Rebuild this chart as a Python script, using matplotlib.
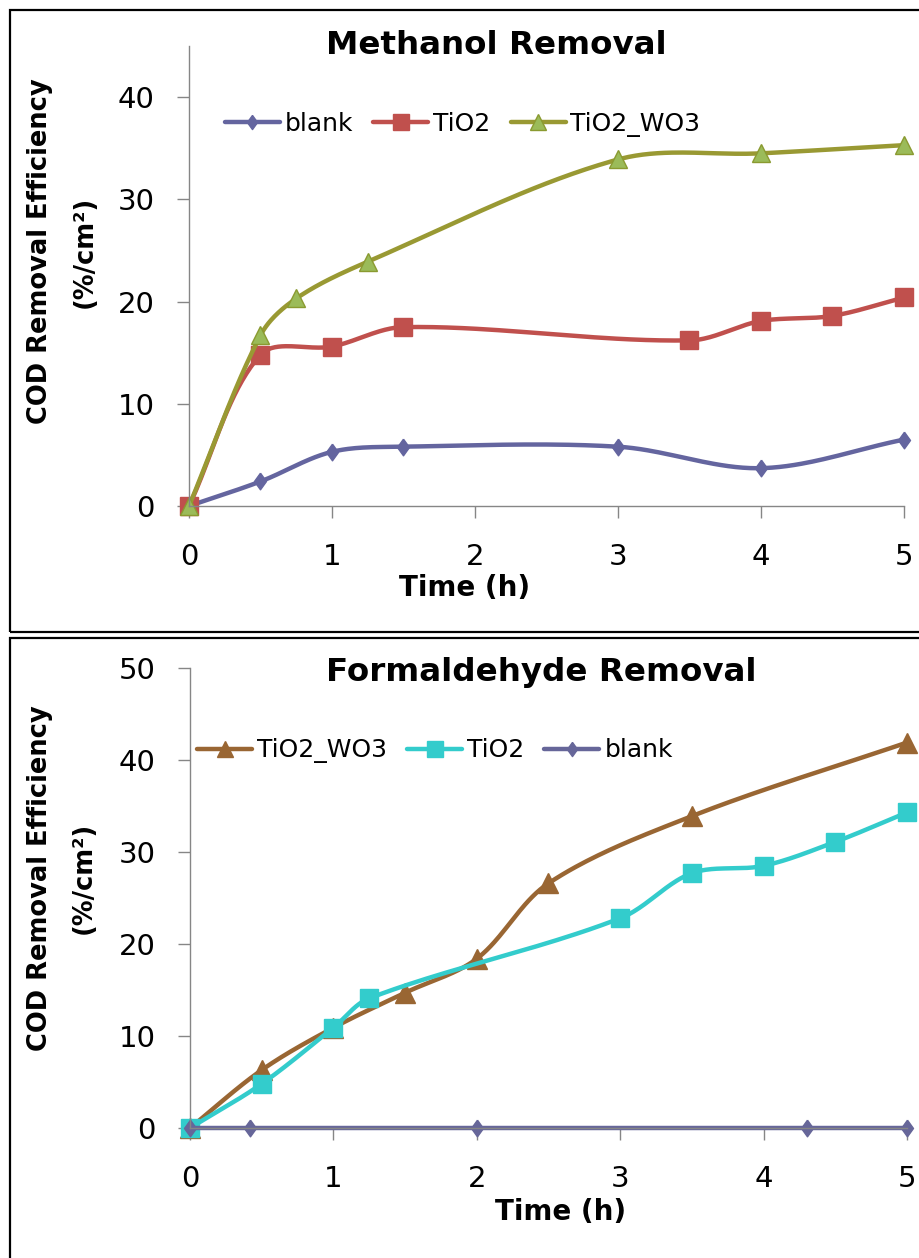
import numpy as np
import matplotlib.pyplot as plt
from matplotlib.lines import Line2D
from matplotlib.patches import Rectangle

# Methanol removal (top panel)
meth_blank_t = [0, 0.5, 1, 1.5, 3, 4, 5]
meth_blank_v = [0, 2.4, 5.3, 5.8, 5.8, 3.7, 6.5]
meth_tio2_t = [0, 0.5, 1, 1.5, 3.5, 4, 4.5, 5]
meth_tio2_v = [0, 14.8, 15.6, 17.5, 16.2, 18.1, 18.6, 20.4]
meth_wo3_t = [0, 0.5, 0.75, 1.25, 3, 4, 5]
meth_wo3_v = [0, 16.7, 20.3, 23.9, 33.9, 34.5, 35.3]

# Formaldehyde removal (bottom panel)
form_wo3_t = [0, 0.5, 1, 1.5, 2, 2.5, 3.5, 5]
form_wo3_v = [0, 6.3, 10.9, 14.7, 18.4, 26.6, 33.9, 41.9]
form_tio2_t = [0, 0.5, 1, 1.25, 3, 3.5, 4, 4.5, 5]
form_tio2_v = [0, 4.8, 10.9, 14.1, 22.8, 27.7, 28.5, 31.1, 34.3]
form_blank_t = [0, 0.42, 2, 4.3, 5]
form_blank_v = [0, 0, 0, 0, 0]

x_ticks = [0, 1, 2, 3, 4, 5]

W, H = 920, 1258
DIAMOND = [(0, 1), (0.72, 0), (0, -1), (-0.72, 0), (0, 1)]


def smooth(x, y, kx, ky, n=40):
    # bezier smoothing like excel's "smoothed line", handles scaled by chord length on screen
    p = np.column_stack([x, y]).astype(float)
    k = np.array([kx, ky])

    def dist(a, b):
        return np.hypot(*((b - a) * k))

    pts = [p[0]]
    t = np.linspace(0, 1, n)[1:, None]
    for i in range(len(p) - 1):
        p0 = p[i - 1] if i > 0 else p[i]
        p1, p2 = p[i], p[i + 1]
        p3 = p[i + 2] if i + 2 < len(p) else p[i + 1]
        d0, d1, d2 = dist(p0, p1), dist(p1, p2), dist(p2, p3)
        c1 = p1 + (p2 - p0) * d1 / (3 * (d0 + d1))
        c2 = p2 - (p3 - p1) * d1 / (3 * (d1 + d2))
        seg = (1 - t) ** 3 * p1 + 3 * (1 - t) ** 2 * t * c1 + 3 * (1 - t) * t ** 2 * c2 + t ** 3 * p2
        pts.extend(seg)
    pts = np.array(pts)
    return pts[:, 0], pts[:, 1]


def px_axes(fig, left, top, right, bottom):
    return fig.add_axes([left / W, 1 - bottom / H, (right - left) / W, (bottom - top) / H])


def series(ax, x, y, color, marker, ms, mfc, mec, label):
    # screen scale (px per data unit) for the smoothing
    x0, x1 = ax.get_xlim()
    y0, y1 = ax.get_ylim()
    bb = ax.get_position()
    kx = bb.width * W / (x1 - x0)
    ky = bb.height * H / (y1 - y0)
    sx, sy = smooth(x, y, kx, ky)
    ax.plot(sx, sy, color=color, lw=3.2, solid_capstyle='round', clip_on=False)
    ax.plot(x, y, ls='none', marker=marker, ms=ms, mfc=mfc, mec=mec, mew=1, clip_on=False)
    return Line2D([], [], color=color, lw=3.2, solid_capstyle='round', marker=marker,
                  ms=ms * 0.85, mfc=mfc, mec=mec, mew=1, label=label)


def style_axes(ax, ymax):
    ax.set_xlim(0, 5)
    ax.set_ylim(0, ymax)
    ax.set_xticks(x_ticks)
    ax.set_yticks(range(0, 41, 10) if ymax < 50 else range(0, 51, 10))
    for s in ['top', 'right']:
        ax.spines[s].set_visible(False)
    for s in ['left', 'bottom']:
        ax.spines[s].set_color('#868686')
        ax.spines[s].set_linewidth(1)
    ax.tick_params(direction='out', length=8.6, width=1, color='#868686', labelsize=21)
    ax.tick_params(axis='x', pad=18)
    ax.tick_params(axis='y', pad=16)
    ax.patch.set_alpha(0)


fig = plt.figure(figsize=(W / 100, H / 100), dpi=100)

# panel borders
fig.patches.append(Rectangle((10 / W, 1 - 632 / H), 1.0, (632 - 10) / H, transform=fig.transFigure,
                             fill=False, ec='black', lw=1.6))
fig.patches.append(Rectangle((10 / W, -0.1), 1.0, (1 - 638 / H) + 0.1, transform=fig.transFigure,
                             fill=False, ec='black', lw=1.6))

# top: methanol
ax1 = px_axes(fig, 189, 46, 904, 506)
style_axes(ax1, 45)
h = []
h.append(series(ax1, meth_blank_t, meth_blank_v, '#64659F', DIAMOND, 12, '#64659F', '#64659F', 'blank'))
h.append(series(ax1, meth_tio2_t, meth_tio2_v, '#C0504D', 's', 13, '#C0504D', '#C0504D', 'TiO2'))
h.append(series(ax1, meth_wo3_t, meth_wo3_v, '#999933', '^', 13, '#9BBB59', '#8A9A30', 'TiO2_WO3'))
ax1.legend(handles=h, loc='center left', bbox_to_anchor=(0.05, 0.83), ncol=3, frameon=False,
           fontsize=18, handlelength=2.2, handletextpad=0.2, columnspacing=0.8,
           borderpad=0, borderaxespad=0, numpoints=1)
fig.text(496 / W, 1 - 46 / H, 'Methanol Removal', ha='center', va='center', fontsize=23.4, fontweight='bold')
fig.text(465 / W, 1 - 588 / H, 'Time (h)', ha='center', va='center', fontsize=20, fontweight='bold')
fig.text(40 / W, 1 - 251 / H, 'COD Removal Efficiency', rotation=90, ha='center', va='center',
         fontsize=18.5, fontweight='bold')
fig.text(85 / W, 1 - 252 / H, '(%/cm²)', rotation=90, ha='center', va='center',
         fontsize=18.5, fontweight='bold')

# bottom: formaldehyde
ax2 = px_axes(fig, 190, 668, 907, 1128)
style_axes(ax2, 50)
h = []
h.append(series(ax2, form_wo3_t, form_wo3_v, '#996633', '^', 14, '#996633', '#996633', 'TiO2_WO3'))
h.append(series(ax2, form_tio2_t, form_tio2_v, '#33CCCC', 's', 13, '#33CCCC', '#33CCCC', 'TiO2'))
h.append(series(ax2, form_blank_t, form_blank_v, '#666699', DIAMOND, 12, '#666699', '#666699', 'blank'))
ax2.legend(handles=h, loc='center left', bbox_to_anchor=(0.0098, 0.82), ncol=3, frameon=False,
           fontsize=18, handlelength=2.2, handletextpad=0.2, columnspacing=0.8,
           borderpad=0, borderaxespad=0, numpoints=1)
fig.text(541 / W, 1 - 673 / H, 'Formaldehyde Removal', ha='center', va='center', fontsize=23.4, fontweight='bold')
fig.text(561 / W, 1 - 1212 / H, 'Time (h)', ha='center', va='center', fontsize=20, fontweight='bold')
fig.text(40 / W, 1 - 878 / H, 'COD Removal Efficiency', rotation=90, ha='center', va='center',
         fontsize=18.5, fontweight='bold')
fig.text(84 / W, 1 - 878 / H, '(%/cm²)', rotation=90, ha='center', va='center',
         fontsize=18.5, fontweight='bold')

fig.savefig('out.png', dpi=100)
